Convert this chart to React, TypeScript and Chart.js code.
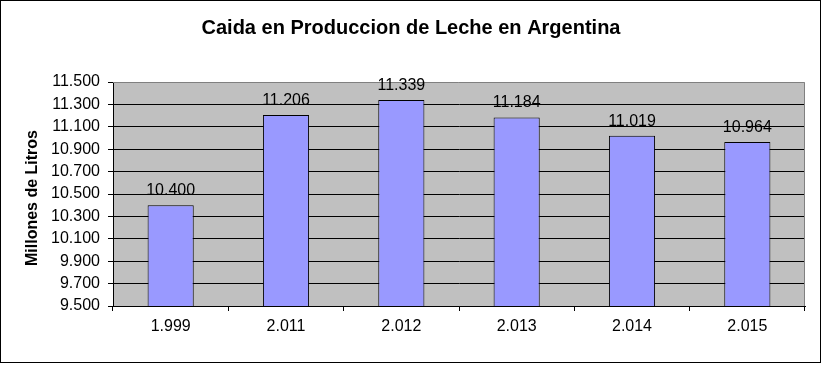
import React, { useEffect, useRef } from "react";
import { Chart, registerables } from "chart.js";

Chart.register(...registerables);

const TITLE = "Caida en Produccion de Leche en Argentina";
const Y_TITLE = "Millones de Litros";
const CATEGORIES = ["1.999", "2.011", "2.012", "2.013", "2.014", "2.015"];
const VALUES = [10400, 11206, 11339, 11184, 11019, 10964];
const Y_MIN = 9500;
const Y_MAX = 11500;
const Y_STEP = 200;

const FONT = "'Liberation Sans', Arial, sans-serif";

function fmt(v: number): string {
  return Math.round(v)
    .toString()
    .replace(/\B(?=(\d{3})+(?!\d))/g, ".");
}

const decorPlugin = {
  id: "decor",
  beforeDraw(chart: any) {
    const { ctx, chartArea } = chart;
    ctx.save();
    ctx.fillStyle = "#ffffff";
    ctx.fillRect(0, 0, chart.width, chart.height);
    ctx.fillStyle = "#C0C0C0";
    ctx.fillRect(
      chartArea.left,
      chartArea.top,
      chartArea.right - chartArea.left,
      chartArea.bottom - chartArea.top
    );
    ctx.restore();
  },
  afterDraw(chart: any) {
    const { ctx, chartArea } = chart;
    ctx.save();
    // plot area gray border (top & right)
    ctx.strokeStyle = "#808080";
    ctx.lineWidth = 1;
    ctx.beginPath();
    ctx.moveTo(chartArea.left, chartArea.top + 0.5);
    ctx.lineTo(chartArea.right - 0.5, chartArea.top + 0.5);
    ctx.lineTo(chartArea.right - 0.5, chartArea.bottom);
    ctx.stroke();

    // outer border
    ctx.strokeStyle = "#000000";
    ctx.strokeRect(0.5, 0.5, 820, 362);

    // title
    ctx.fillStyle = "#000";
    ctx.font = `bold 20px ${FONT}`;
    ctx.textAlign = "center";
    ctx.textBaseline = "middle";
    ctx.fillText(TITLE, 411, 28);

    // y axis title
    ctx.save();
    ctx.translate(33, 198);
    ctx.rotate(-Math.PI / 2);
    ctx.font = `bold 16px ${FONT}`;
    ctx.fillText(Y_TITLE, 0, 0);
    ctx.restore();

    // data labels
    const meta = chart.getDatasetMeta(0);
    ctx.font = `16px ${FONT}`;
    ctx.textAlign = "center";
    ctx.textBaseline = "alphabetic";
    meta.data.forEach((bar: any, i: number) => {
      ctx.fillText(fmt(VALUES[i]), bar.x, bar.y - 10);
    });
    ctx.restore();
  },
};

export default function App() {
  const ref = useRef<HTMLCanvasElement>(null);

  useEffect(() => {
    document.body.style.margin = "0";
    const canvas = ref.current!;
    const chart = new Chart(canvas, {
      type: "bar",
      data: {
        labels: CATEGORIES,
        datasets: [
          {
            data: VALUES,
            backgroundColor: "#9999FF",
            borderColor: "#000000",
            borderWidth: 1,
            barPercentage: 0.4,
            categoryPercentage: 1,
          },
        ],
      },
      options: {
        responsive: false,
        animation: false,
        devicePixelRatio: 1,
        layout: { padding: { top: 82, right: 17, left: 0, bottom: 0 } },
        plugins: {
          legend: { display: false },
          title: { display: false },
          tooltip: { enabled: false },
        },
        scales: {
          x: {
            offset: true,
            grid: {
              offset: true,
              drawOnChartArea: false,
              drawTicks: true,
              tickLength: 5,
              color: "#000",
            },
            border: { color: "#000", width: 1 },
            ticks: {
              color: "#000",
              font: { family: FONT, size: 16 },
              padding: 6,
              maxRotation: 0,
            },
            afterFit(s: any) {
              s.height = 62;
            },
          },
          y: {
            min: Y_MIN,
            max: Y_MAX,
            ticks: {
              stepSize: Y_STEP,
              color: "#000",
              font: { family: FONT, size: 16 },
              padding: 8,
              callback: (v: any) => fmt(Number(v)),
            },
            grid: {
              color: (c: any) =>
                c.tick && c.tick.value === Y_MAX ? "rgba(0,0,0,0)" : "#000",
              tickColor: "#000",
              drawTicks: true,
              tickLength: 5,
            },
            border: { color: "#000", width: 1 },
            afterFit(s: any) {
              s.width = 113;
            },
          },
        },
      },
      plugins: [decorPlugin],
    });
    return () => chart.destroy();
  }, []);

  return (
    <div style={{ position: "absolute", left: 0, top: 0, width: 822, height: 368 }}>
      <canvas ref={ref} width={822} height={368} />
    </div>
  );
}
